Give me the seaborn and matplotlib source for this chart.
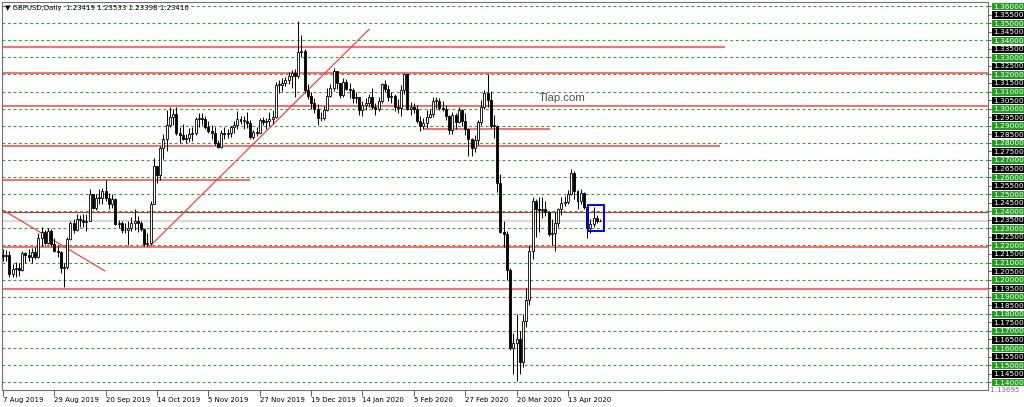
import numpy as np
import pandas as pd
import matplotlib
matplotlib.use("Agg")
import matplotlib.pyplot as plt
from matplotlib.patches import Rectangle
import seaborn as sns

# Daily bars (weekdays, broker has no bar on 25 Dec and 1 Jan)
dates = [d for d in pd.bdate_range("2019-08-07", "2020-04-27")
         if d not in (pd.Timestamp("2019-12-25"), pd.Timestamp("2020-01-01"))]

first_open = 1.2145
closes = [
    1.2140, 1.2145, 1.2035, 1.2060, 1.2065, 1.2055, 1.2155, 1.2145, 1.2130, 1.2160,
    1.2130, 1.2245, 1.2280, 1.2215, 1.2285, 1.2210, 1.2170, 1.2160, 1.2065, 1.2075,
    1.2240, 1.2330, 1.2290, 1.2355, 1.2350, 1.2335, 1.2345, 1.2500, 1.2420, 1.2480,
    1.2480, 1.2520, 1.2475, 1.2440, 1.2470, 1.2325, 1.2330, 1.2290, 1.2290, 1.2300,
    1.2330, 1.2340, 1.2330, 1.2295, 1.2210, 1.2215, 1.2445, 1.2665, 1.2610, 1.2770,
    1.2820, 1.2905, 1.2950, 1.2970, 1.2860, 1.2845, 1.2825, 1.2830, 1.2850, 1.2860,
    1.2940, 1.2945, 1.2940, 1.2890, 1.2870, 1.2860, 1.2800, 1.2775, 1.2860, 1.2850,
    1.2860, 1.2895, 1.2905, 1.2940, 1.2930, 1.2930, 1.2915, 1.2835, 1.2865, 1.2860,
    1.2935, 1.2920, 1.2930, 1.2940, 1.2950, 1.3140, 1.3140, 1.3150, 1.3170, 1.3190,
    1.3210, 1.3190, 1.3330, 1.3335, 1.3110, 1.3075, 1.3030, 1.3000, 1.2945, 1.2945,
    1.2990, 1.3075, 1.3120, 1.3220, 1.3150, 1.3080, 1.3155, 1.3115, 1.3110, 1.3060,
    1.3065, 1.2990, 1.3020, 1.3030, 1.3070, 1.3010, 1.3000, 1.3045, 1.3145, 1.3115,
    1.3070, 1.3075, 1.3010, 1.3005, 1.3110, 1.3200, 1.3000, 1.3010, 1.2995, 1.2930,
    1.2900, 1.2915, 1.2950, 1.2970, 1.3045, 1.3045, 1.3005, 1.2995, 1.2955, 1.2875,
    1.2960, 1.2920, 1.2990, 1.2930, 1.2880, 1.2825, 1.2770, 1.2815, 1.2920, 1.3010,
    1.3090, 1.3050, 1.2900, 1.2900, 1.2565, 1.2280, 1.2265, 1.2055, 1.1600, 1.1630,
    1.1650, 1.1520, 1.1760, 1.1880, 1.2170, 1.2460, 1.2415, 1.2405, 1.2410, 1.2395,
    1.2265, 1.2270, 1.2330, 1.2410, 1.2450, 1.2455, 1.2500, 1.2625, 1.2520, 1.2460,
    1.2505, 1.2425, 1.2300, 1.2325, 1.2360, 1.2342, 1.23416,
]
highs = [
    1.2180, 1.2175, 1.2170, 1.2090, 1.2105, 1.2095, 1.2170, 1.2160, 1.2180, 1.2185,
    1.2190, 1.2270, 1.2310, 1.2290, 1.2300, 1.2295, 1.2245, 1.2205, 1.2170, 1.2100,
    1.2250, 1.2345, 1.2355, 1.2385, 1.2380, 1.2385, 1.2385, 1.2530, 1.2500, 1.2500,
    1.2530, 1.2535, 1.2582, 1.2505, 1.2500, 1.2475, 1.2350, 1.2340, 1.2330, 1.2340,
    1.2365, 1.2410, 1.2370, 1.2345, 1.2300, 1.2270, 1.2460, 1.2710, 1.2660, 1.2780,
    1.2850, 1.2990, 1.3012, 1.3000, 1.3010, 1.2890, 1.2910, 1.2850, 1.2885, 1.2890,
    1.2950, 1.2975, 1.2975, 1.2955, 1.2930, 1.2905, 1.2895, 1.2815, 1.2875, 1.2895,
    1.2880, 1.2900, 1.2930, 1.2985, 1.2955, 1.2955, 1.2980, 1.2935, 1.2875, 1.2895,
    1.2945, 1.2950, 1.2945, 1.2980, 1.2990, 1.3155, 1.3165, 1.3180, 1.3185, 1.3215,
    1.3225, 1.3230, 1.3514, 1.3430, 1.3350, 1.3145, 1.3100, 1.3060, 1.3025, 1.2980,
    1.3015, 1.3120, 1.3145, 1.3240, 1.3215, 1.3150, 1.3180, 1.3175, 1.3150, 1.3120,
    1.3095, 1.3070, 1.3045, 1.3060, 1.3085, 1.3120, 1.3030, 1.3070, 1.3150, 1.3165,
    1.3140, 1.3095, 1.3085, 1.3055, 1.3140, 1.3207, 1.3200, 1.3040, 1.3030, 1.3020,
    1.2955, 1.2945, 1.2990, 1.3000, 1.3070, 1.3070, 1.3060, 1.3045, 1.3020, 1.2965,
    1.2980, 1.2975, 1.3010, 1.3000, 1.2975, 1.2880, 1.2830, 1.2845, 1.2935, 1.3050,
    1.3110, 1.3200, 1.3105, 1.2960, 1.2905, 1.2620, 1.2340, 1.2285, 1.2070, 1.1690,
    1.1800, 1.1700, 1.1800, 1.1950, 1.2200, 1.2485, 1.2470, 1.2485, 1.2485, 1.2460,
    1.2400, 1.2355, 1.2395, 1.2420, 1.2485, 1.2490, 1.2525, 1.2647, 1.2635, 1.2525,
    1.2530, 1.2510, 1.2440, 1.2355, 1.2425, 1.2380, 1.23533,
]
lows = [
    1.2110, 1.2110, 1.2015, 1.2015, 1.2015, 1.2020, 1.2050, 1.2100, 1.2110, 1.2100,
    1.2120, 1.2125, 1.2195, 1.2200, 1.2210, 1.2195, 1.2160, 1.2135, 1.2040, 1.1958,
    1.2060, 1.2230, 1.2275, 1.2285, 1.2305, 1.2305, 1.2285, 1.2345, 1.2410, 1.2405,
    1.2440, 1.2440, 1.2460, 1.2410, 1.2420, 1.2320, 1.2300, 1.2270, 1.2270, 1.2205,
    1.2285, 1.2290, 1.2280, 1.2285, 1.2195, 1.2195, 1.2200, 1.2440, 1.2565, 1.2580,
    1.2705, 1.2750, 1.2895, 1.2905, 1.2845, 1.2800, 1.2815, 1.2800, 1.2805, 1.2810,
    1.2845, 1.2895, 1.2905, 1.2880, 1.2855, 1.2825, 1.2790, 1.2768, 1.2770, 1.2820,
    1.2830, 1.2835, 1.2855, 1.2880, 1.2910, 1.2880, 1.2885, 1.2820, 1.2825, 1.2840,
    1.2855, 1.2905, 1.2880, 1.2900, 1.2910, 1.2945, 1.3090, 1.3105, 1.3130, 1.3145,
    1.3120, 1.3070, 1.3180, 1.3300, 1.3090, 1.3055, 1.3000, 1.2975, 1.2905, 1.2925,
    1.2935, 1.2985, 1.3070, 1.3105, 1.3115, 1.3060, 1.3070, 1.3110, 1.3060, 1.3035,
    1.3035, 1.2960, 1.2955, 1.2990, 1.3010, 1.2995, 1.2965, 1.2985, 1.3035, 1.3095,
    1.3045, 1.3035, 1.2985, 1.2975, 1.2955, 1.3085, 1.2990, 1.2965, 1.2975, 1.2915,
    1.2870, 1.2880, 1.2885, 1.2945, 1.2950, 1.3005, 1.2990, 1.2985, 1.2935, 1.2850,
    1.2850, 1.2880, 1.2915, 1.2900, 1.2845, 1.2725, 1.2725, 1.2745, 1.2790, 1.2905,
    1.2995, 1.3010, 1.2885, 1.2830, 1.2515, 1.2270, 1.2190, 1.2000, 1.1590, 1.1450,
    1.1409, 1.1450, 1.1490, 1.1720, 1.1850, 1.2120, 1.2250, 1.2280, 1.2360, 1.2370,
    1.2255, 1.2205, 1.2165, 1.2310, 1.2375, 1.2430, 1.2440, 1.2495, 1.2470, 1.2410,
    1.2440, 1.2410, 1.2245, 1.2270, 1.2310, 1.2330, 1.23398,
]

# drawn objects on the chart
red_levels = [1.3362, 1.3210, 1.3015, 1.2878, 1.2781, 1.2580, 1.2193, 1.1947]
red_starts = [-1, -1, -1, 130.8, -1, -1, -1, -1]
red_ends = [224.9, 400, 400, 170.4, 223.4, 76.9, 400, 400]
thin_red_level = 1.2397
current_price = 1.2342
trend_x = [(-0.4, 31.8), (45.8, 114.1)]
trend_y = [(1.2411, 1.2050), (1.2196, 1.3464)]
box_bars = (182.2, 187.2)
box_prices = (1.2284, 1.2436)
grid_levels = np.round(np.arange(1.14, 1.3601, 0.01), 2)
price_ticks = np.round(np.arange(1.14, 1.3601, 0.005), 3)
bottom_price = 1.13695

sns.set_theme(style="white")
plt.rcParams['font.family'] = ['DejaVu Sans']

opens = np.array([first_open] + closes[:-1])
closes = np.array(closes)
highs = np.array(highs)
lows = np.array(lows)
x = np.arange(len(closes))

fig = plt.figure(figsize=(10.24, 4.07), dpi=100)
fig.patch.set_facecolor('white')
ax = fig.add_axes([2 / 1024, 17 / 407, 986 / 1024, 388 / 407])
ax.set_facecolor('white')

# green dashed grid levels
for lvl in grid_levels:
    ax.axhline(lvl, color='#2aa52a', lw=0.8, ls=(0, (2.5, 2.5)), zorder=1)

ax.axhline(current_price, color='#d8d8d8', lw=1.5, zorder=1.2)
ax.axhline(thin_red_level, color='#e02020', lw=0.7, zorder=1.5)
ax.hlines(red_levels, red_starts, red_ends, color='#ff6a6a', lw=1.4, zorder=1.5)

for tx, ty in zip(trend_x, trend_y):
    sns.lineplot(x=list(tx), y=list(ty), ax=ax, color='#ff3030', lw=0.8, zorder=1.6)

# candles
bull = closes >= opens
body_bottom = np.minimum(opens, closes)
body_h = np.maximum(np.abs(closes - opens), 0.00025)
ax.vlines(x, lows, highs, color='black', lw=0.7, zorder=3)
ax.bar(x[bull], body_h[bull], bottom=body_bottom[bull], width=0.62,
       color='white', edgecolor='black', linewidth=0.6, zorder=4)
ax.bar(x[~bull], body_h[~bull], bottom=body_bottom[~bull], width=0.62,
       color='black', edgecolor='black', linewidth=0.6, zorder=4)

ax.add_patch(Rectangle((box_bars[0], box_prices[0]), box_bars[1] - box_bars[0],
                       box_prices[1] - box_prices[0], fill=False,
                       edgecolor='#0000ff', lw=1.4, zorder=5))

ax.set_xlim(-0.31, 306.9)
ax.set_ylim(1.13544, 1.36234)
ax.set_xlabel('')
ax.set_ylabel('')

# price scale on the right
ax.yaxis.tick_right()
ax.set_yticks(price_ticks)
ax.set_yticklabels([f"{p:.5f}" for p in price_ticks])
ax.tick_params(axis='y', length=2, width=0.6, pad=1.5, labelsize=5.3,
               color='#404040', labelcolor='white', right=True, left=False)
for lbl, p in zip(ax.get_yticklabels(), price_ticks):
    fc = '#1f9e1f' if round(p * 1000) % 10 == 0 else 'black'
    lbl.set_bbox(dict(boxstyle='square,pad=0.1', fc=fc, ec='none'))
ax.text(1.0, bottom_price, f" {bottom_price:.5f}", transform=ax.get_yaxis_transform(),
        fontsize=5.0, color='#707070', ha='left', va='top', clip_on=False, zorder=0)

# date scale
tick_idx = list(range(0, len(dates), 16))
ax.set_xticks(tick_idx)
ax.set_xticklabels([f"{dates[i].day} {dates[i]:%b %Y}" for i in tick_idx], ha='left')
ax.tick_params(axis='x', length=4, width=0.6, pad=1.0, labelsize=5.0,
               color='#404040', labelcolor='black', bottom=True, direction='out')

for side in ['left', 'right', 'top', 'bottom']:
    ax.spines[side].set_color('#707070')
    ax.spines[side].set_linewidth(0.8)

fig.text(5 / 1024, 1 - 8 / 407, "\u25bc GBPUSD,Daily  1.23419 1.23533 1.23398 1.23416",
         fontsize=5.0, color='black', ha='left', va='center')
ax.text(0.568, 0.7526, "Tlap.com", transform=ax.transAxes, fontsize=8.2,
        color='#505050', family='Liberation Sans', ha='center', va='center')

fig.savefig("out.png", dpi=100, facecolor='white')
